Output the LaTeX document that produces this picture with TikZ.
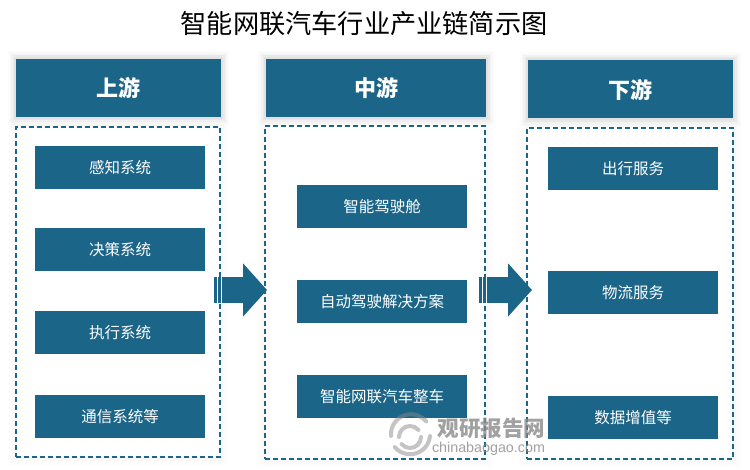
\documentclass[tikz,border=0pt]{standalone}
\usepackage{fontspec}
\setmainfont{Noto Sans CJK SC}
\newfontfamily\latinfont{Liberation Sans}
\usetikzlibrary{arrows.meta}
\definecolor{chainblue}{HTML}{1B6589}
\definecolor{markgray}{HTML}{8A8A8A}
\tikzset{
glow/.style = {preaction={draw=black,solid,line width=16pt,opacity=.012},preaction={draw=black,solid,line width=13pt,opacity=.016},preaction={draw=black,solid,line width=10pt,opacity=.022},preaction={draw=black,solid,line width=7pt,opacity=.03},preaction={draw=black,solid,line width=4pt,opacity=.04}},
softglow/.style = {preaction={draw=black,solid,line width=16pt,opacity=.006},preaction={draw=black,solid,line width=10pt,opacity=.008},preaction={draw=black,solid,line width=5pt,opacity=.01}},
headbox/.style = {glow,fill=chainblue,text=white,inner sep=0pt,outer sep=0pt,minimum height=58pt,font=\fontsize{22}{24}\bfseries\selectfont},
frame/.style = {softglow,draw=chainblue,fill=white,dashed,dash pattern=on 5pt off 3pt,line width=1.3pt,inner sep=0pt,outer sep=0pt},
itembox/.style = {fill=chainblue,text=white,inner sep=0pt,outer sep=0pt,minimum width=170pt,minimum height=43pt,font=\fontsize{15.5}{18}\selectfont},
flowbar/.style = {fill=chainblue,inner sep=0pt,outer sep=0pt,minimum width=3pt,minimum height=26pt},
flow/.style = {chainblue,line width=26pt,-{Triangle[length=24pt,width=52pt]}},
swirl/.style = {markgray,line width=4pt,opacity=.5,line cap=round}
}
\begin{document}
\begin{tikzpicture}[x=1pt,y=-1pt]
\useasboundingbox (0,0) rectangle (750,470);

\node (title) at (364,24) {\fontsize{26.2}{28}\selectfont 智能网联汽车行业产业链简示图};

\node[headbox,minimum width=205pt] (headUp) at (118.5,88) {上游};
\node[headbox,minimum width=220pt] (headMid) at (376,88) {中游};
\node[headbox,minimum width=205pt] (headDown) at (630.5,89.5) {下游};

\node[frame,minimum width=204pt,minimum height=330pt] (frameUp) at (118,292) {};
\node[frame,minimum width=220pt,minimum height=333pt] (frameMid) at (375,292.5) {};
\node[frame,minimum width=206pt,minimum height=331pt] (frameDown) at (630,293.5) {};

\node[itembox] (sense) at (120,167.5) {感知系统};
\node[itembox] (decide) at (120,250) {决策系统};
\node[itembox] (execute) at (120,332.5) {执行系统};
\node[itembox] (comm) at (120,416.5) {通信系统等};

\node[itembox] (cockpit) at (382,206.5) {智能驾驶舱};
\node[itembox] (solution) at (382,301.5) {自动驾驶解决方案};
\node[itembox] (vehicle) at (382,396.5) {智能网联汽车整车};

\node[itembox] (travel) at (633,168.5) {出行服务};
\node[itembox] (logistics) at (633,292.5) {物流服务};
\node[itembox] (data) at (633,417.5) {数据增值等};

\node[flowbar,minimum width=3pt] (barA) at (215.5,290) {};
\node[flowbar,minimum width=3pt] (barB) at (219.5,290) {};
\node[flowbar,minimum width=3pt] (barC) at (480.5,290) {};
\node[flowbar,minimum width=3pt] (barD) at (484.5,290) {};
\draw[flow] ([xshift=1pt]barB.east) -- ([xshift=2pt]frameMid.west |- barB);
\draw[flow] ([xshift=1pt]barD.east) -- ([xshift=5pt]frameDown.west |- barD);

\draw[swirl] (391,436) arc[start angle=185,end angle=40,radius=20pt];
\draw[swirl] (430,436) arc[start angle=-5,end angle=-140,radius=20pt];
\draw[swirl] (399,437) arc[start angle=180,end angle=40,radius=11pt];
\draw[swirl] (421,437) arc[start angle=0,end angle=-140,radius=11pt];

\node[text=markgray,opacity=.8,font=\fontsize{21.5}{24}\bfseries\selectfont] (markCn) at (491.5,428) {观研报告网};
\node[text=markgray,opacity=.8,font=\latinfont\fontsize{14.3}{16}\selectfont] (markEn) at (488.5,449) {chinabaogao.com};
\end{tikzpicture}
\end{document}
